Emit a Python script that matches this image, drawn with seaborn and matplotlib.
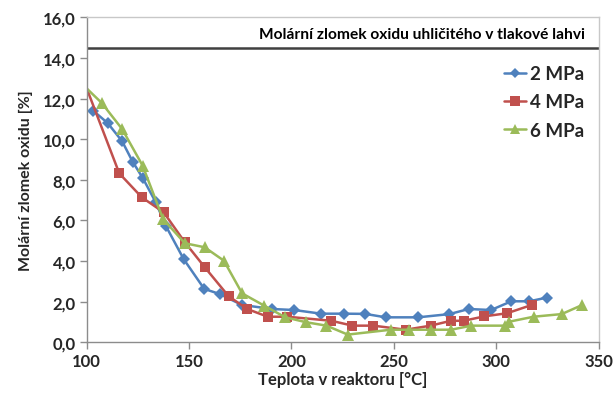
import matplotlib
matplotlib.use("Agg")
import matplotlib.pyplot as plt
import seaborn as sns
import pandas as pd
from matplotlib.lines import Line2D

# Data
x_2mpa = [103.2, 110.2, 117.3, 122.4, 127.3, 133.7, 138.6, 147.4, 157.4, 164.9, 175.8, 190.6, 201.4,
          214.4, 225.8, 236.0, 246.1, 261.9, 277.2, 286.6, 297.5, 307.4, 316.2, 324.7]
y_2mpa = [11.4, 10.8, 9.9, 8.9, 8.1, 6.9, 5.74, 4.09, 2.63, 2.38, 1.84, 1.64, 1.59,
          1.41, 1.41, 1.4, 1.23, 1.23, 1.39, 1.64, 1.59, 2.02, 2.02, 2.2]

x_4mpa = [100.0, 115.9, 126.9, 137.6, 147.9, 157.7, 169.3, 178.4, 188.4, 198.0, 219.5, 229.8, 240.0,
          255.8, 268.0, 277.9, 284.2, 294.3, 305.3, 317.4]
y_4mpa = [12.5, 8.32, 7.14, 6.4, 4.93, 3.69, 2.27, 1.64, 1.26, 1.26, 1.06, 0.82, 0.82,
          0.62, 0.82, 1.06, 1.06, 1.28, 1.43, 1.84]

x_6mpa = [100.0, 107.3, 117.3, 127.3, 137.3, 147.9, 157.6, 167.0, 175.9, 186.8, 197.0, 207.1, 217.1,
          227.5, 248.5, 257.4, 268.0, 278.0, 287.9, 304.1, 306.1, 318.3, 332.0, 342.1]
y_6mpa = [12.5, 11.79, 10.5, 8.7, 6.07, 4.88, 4.68, 4.02, 2.41, 1.8, 1.23, 0.99, 0.82,
          0.38, 0.62, 0.62, 0.62, 0.62, 0.82, 0.82, 1.01, 1.26, 1.39, 1.84]

series_names = ["2 MPa", "4 MPa", "6 MPa"]
bottle_level = 14.5
bottle_label = "Molární zlomek oxidu uhličitého v tlakové lahvi"
x_ticks = [100, 150, 200, 250, 300, 350]
y_ticks = [0, 2, 4, 6, 8, 10, 12, 14, 16]

sns.set_style("white")
plt.rcParams['font.family'] = ['Lato', 'DejaVu Sans']

fig = plt.figure(figsize=(6.16, 4.02), dpi=100)
ax = fig.add_axes([0.1408, 0.146, 0.8308, 0.8082])

colors = ["#4F81BD", "#C0504D", "#9BBB59"]
markers = ["D", "s", "^"]
msizes = [6.5, 7.5, 8]
data = [(x_2mpa, y_2mpa, None), (x_4mpa, y_4mpa, slice(1, None)), (x_6mpa, y_6mpa, slice(1, None))]

handles = []
for (xs, ys, me), name, c, m, ms in zip(data, series_names, colors, markers, msizes):
    df = pd.DataFrame({"x": xs, "y": ys})
    sns.lineplot(data=df, x="x", y="y", sort=False, ax=ax, color=c, linewidth=1.8,
                 marker=m, markersize=ms, markeredgewidth=0, markevery=me, clip_on=True)
    handles.append(Line2D([0], [0], color=c, linewidth=1.8, marker=m, markersize=ms - 1,
                          markeredgewidth=0, label=name))

ax.axhline(bottle_level, color="#404040", linewidth=1.8)
ax.text(343.6, bottle_level + 0.35, bottle_label, ha="right", va="bottom",
        fontsize=11.2, fontweight="bold", color="#000000")

ax.set_xlim(100, 350)
ax.set_ylim(0, 16)
ax.set_xticks(x_ticks)
ax.set_yticks(y_ticks)
ax.set_xticklabels([str(t) for t in x_ticks], fontsize=12, fontweight="bold")
ax.set_yticklabels([f"{t:.1f}".replace(".", ",") for t in y_ticks], fontsize=12, fontweight="bold")
ax.set_xlabel("Teplota v reaktoru [°C]", fontsize=12, fontweight="bold", labelpad=1)
ax.set_ylabel("Molární zlomek oxidu [%]", fontsize=11.5, fontweight="bold", labelpad=7)

for s in ["left", "bottom"]:
    ax.spines[s].set_color("#8c8c8c")
    ax.spines[s].set_linewidth(1.0)
for s in ["top", "right"]:
    ax.spines[s].set_color("#c8c8c8")
    ax.spines[s].set_linewidth(1.0)
ax.tick_params(axis="both", which="major", direction="out", length=5, width=1,
               color="#8c8c8c", pad=3, bottom=True, left=True)

leg = ax.legend(handles=handles, loc="upper right", bbox_to_anchor=(1.005, 0.905), frameon=False,
                prop={"weight": "bold", "size": 13.5}, handlelength=1.2, handletextpad=0.2,
                labelspacing=0.6)

fig.savefig("out.png", dpi=100)
